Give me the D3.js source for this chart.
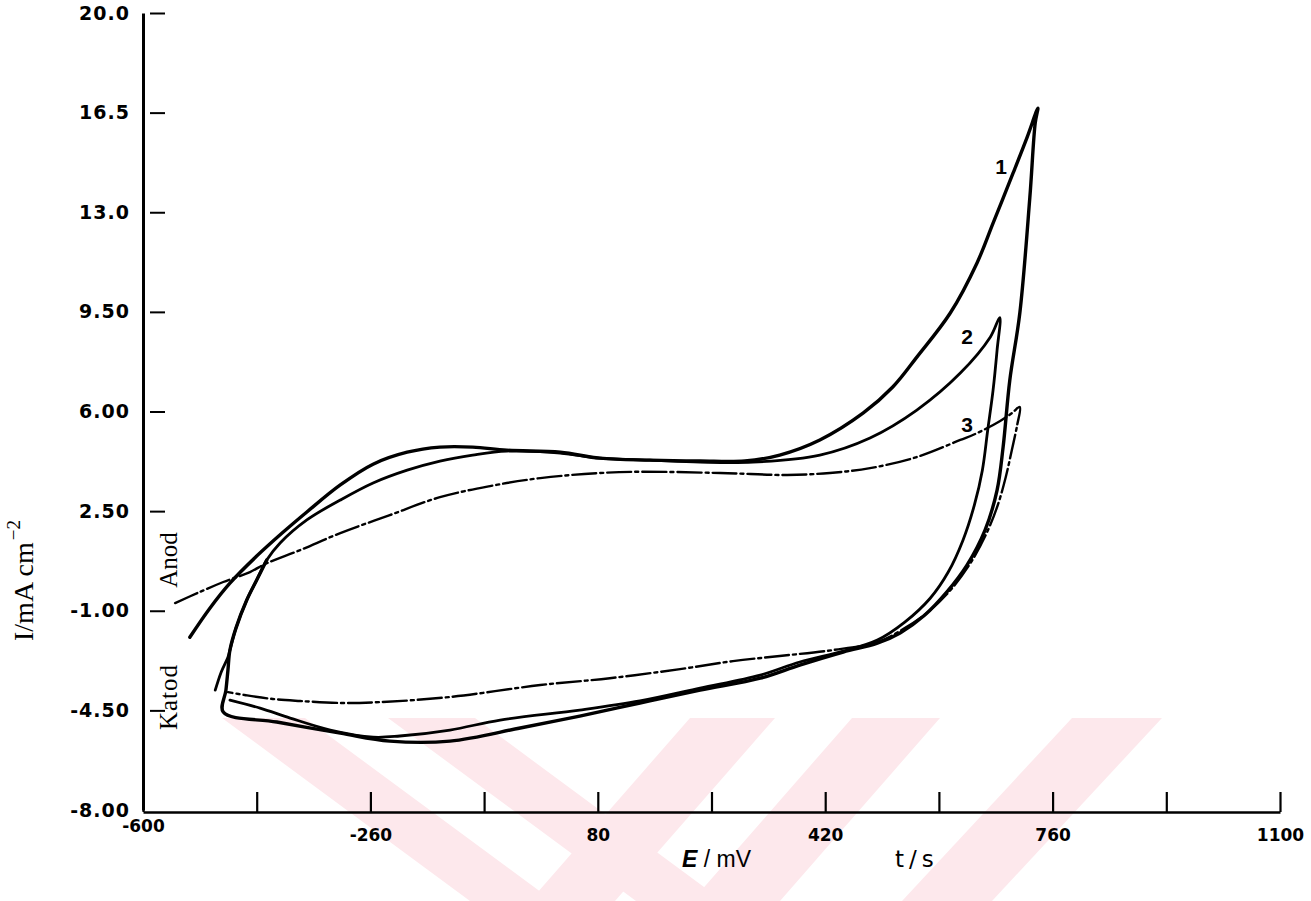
<!DOCTYPE html>
<html>
<head>
<meta charset="utf-8">
<script src="https://cdn.jsdelivr.net/npm/d3@7"></script>
<style>
  html, body { margin: 0; padding: 0; background: #ffffff; }
  svg { display: block; }
</style>
</head>
<body>
<svg id="chart" width="1311" height="901"></svg>
<script>
// Cyclic voltammograms, three scans: [E (mV), I (mA cm^-2)]
// each list runs anodic sweep -> switching potential -> cathodic sweep
const cv1 = [
  [-530, -1.93], [-500, -0.91], [-470, -0.03], [-430, 0.92], [-392, 1.73], [-355, 2.47],
  [-305, 3.42], [-256, 4.15], [-205, 4.57], [-156, 4.75], [-107, 4.75], [-56, 4.64],
  [24, 4.57], [83, 4.36], [158, 4.29], [233, 4.26], [300, 4.26], [352, 4.47],
  [412, 5.00], [477, 5.95], [521, 6.86], [557, 7.91], [607, 9.46], [647, 11.22],
  [671, 12.62], [701, 14.38], [722, 15.64], [738, 16.66],
  [734, 16.13], [726, 13.53], [711, 9.46], [696, 7.10], [686, 4.75], [677, 3.24],
  [659, 1.83], [632, 0.60], [602, -0.34], [569, -1.15], [532, -1.78], [498, -2.14],
  [447, -2.45], [382, -2.91], [323, -3.37], [233, -3.79], [143, -4.24], [53, -4.70],
  [-36, -5.12], [-141, -5.58], [-231, -5.58], [-305, -5.30], [-400, -4.91], [-480, -4.56],
  [-476, -3.79], [-473, -3.09], [-470, -2.38], [-461, -1.61], [-445, -0.63], [-430, 0.08],
  [-415, 0.78]
];
const cv2 = [
  [-492, -3.79], [-483, -3.15], [-473, -2.63], [-470, -2.38], [-461, -1.61], [-445, -0.63],
  [-430, 0.08], [-415, 0.78], [-395, 1.38], [-355, 2.19], [-305, 2.89], [-256, 3.49],
  [-205, 3.94], [-156, 4.26], [-107, 4.47], [-56, 4.61], [24, 4.54], [83, 4.36],
  [158, 4.29], [233, 4.22], [312, 4.22], [412, 4.47], [487, 5.07], [557, 6.05],
  [622, 7.35], [667, 8.62], [681, 9.30],
  [677, 8.16], [671, 6.75], [663, 5.35], [655, 3.94], [643, 2.71], [626, 1.48],
  [604, 0.36], [577, -0.56], [539, -1.40], [498, -2.03], [447, -2.42], [382, -2.80],
  [323, -3.26], [233, -3.72], [143, -4.17], [53, -4.49], [-66, -4.84], [-141, -5.19],
  [-216, -5.40], [-256, -5.44], [-320, -5.19], [-380, -4.77], [-425, -4.42], [-470, -4.14]
];
const cv3 = [
  [-552, -0.73], [-515, -0.34], [-480, 0.01], [-440, 0.36], [-415, 0.67], [-365, 1.13],
  [-305, 1.73], [-231, 2.36], [-156, 2.99], [-81, 3.38], [-6, 3.66], [113, 3.87],
  [263, 3.84], [363, 3.77], [427, 3.84], [487, 4.01], [557, 4.40], [622, 5.00],
  [647, 5.24], [681, 5.66], [699, 5.94], [711, 6.16],
  [707, 5.52], [699, 4.64], [690, 3.70], [678, 2.71], [662, 1.76], [640, 0.78],
  [610, -0.20], [577, -0.98], [539, -1.61], [498, -2.10], [432, -2.38], [352, -2.59],
  [282, -2.77], [203, -3.05], [98, -3.37], [-6, -3.61], [-141, -4.03], [-246, -4.21],
  [-305, -4.24], [-365, -4.17], [-406, -4.10], [-448, -3.96], [-473, -3.86]
];

const curveNames = ["1", "2", "3"];
// where each curve number is written, [E, I]
const curveLabelAt = [[683, 14.6], [632, 8.62], [632, 5.56]];

const xTicks = d3.range(-600, 1101, 170);
const xTickLabels = { "-600": "-600", "-260": "-260", "80": "80", "420": "420", "760": "760", "1100": "1100" };
const yTicks = [-8, -4.5, -1, 2.5, 6, 9.5, 13, 16.5, 20];
const yTickLabels = ["-8.00", "-4.50", "-1.00", "2.50", "6.00", "9.50", "13.0", "16.5", "20.0"];

const svg = d3.select("#chart");

// faint background emblem printed under the lower part of the page
const emblemBands = [
  [[222, 718], [305, 718], [553, 901], [470, 901]],
  [[388, 718], [475, 718], [723, 901], [636, 901]],
  [[690, 718], [775, 718], [615, 901], [530, 901]],
  [[852, 718], [940, 718], [780, 901], [692, 901]],
  [[1072, 718], [1162, 718], [992, 901], [902, 901]]
];
svg.append("g")
  .selectAll("polygon")
  .data(emblemBands)
  .join("polygon")
  .attr("points", d => d.map(p => p.join(",")).join(" "))
  .attr("fill", "#fde8ec");

const x = d3.scaleLinear().domain([-600, 1100]).range([143, 1280]);
const y = d3.scaleLinear().domain([-8, 20]).range([810, 13]);

const tickFont = "'DejaVu Sans', 'Liberation Sans', sans-serif";
const serifFont = "'Liberation Serif', 'Times New Roman', serif";

// y axis: spine + labels
const yAxisG = svg.append("g")
  .attr("transform", `translate(${x(-600)},0)`)
  .call(d3.axisLeft(y).tickValues(yTicks).tickSize(0).tickSizeOuter(0).tickPadding(13)
    .tickFormat((d, i) => yTickLabels[i]));
yAxisG.select(".domain").attr("stroke", "#000").attr("stroke-width", 3);
yAxisG.selectAll("text")
  .attr("font-family", tickFont).attr("font-weight", "bold")
  .attr("font-size", 19).attr("letter-spacing", 1).attr("fill", "#000");

// short detached tick dashes to the right of the spine
const yDash = svg.append("g")
  .attr("transform", `translate(${x(-600) + 7},0)`)
  .call(d3.axisRight(y).tickValues(yTicks.filter(v => v > -8)).tickSize(15).tickFormat(""));
yDash.select(".domain").remove();
yDash.selectAll("line").attr("stroke", "#000").attr("stroke-width", 2);

// x axis with upward ticks
const xAxisG = svg.append("g")
  .attr("transform", `translate(0,${y(-8) + 2})`)
  .call(d3.axisBottom(x).tickValues(xTicks).tickSizeInner(-20).tickSizeOuter(0).tickPadding(17)
    .tickFormat(d => xTickLabels[String(d)] || ""));
xAxisG.select(".domain").attr("stroke", "#000").attr("stroke-width", 2.5);
xAxisG.selectAll("line").attr("stroke", "#000").attr("stroke-width", 2.2);
xAxisG.selectAll("text")
  .attr("font-family", tickFont).attr("font-weight", "bold")
  .attr("font-size", 17).attr("fill", "#000");
xAxisG.selectAll(".tick").filter(d => d === -600).select("text").attr("y", 8);

// voltammogram curves
const line = d3.line()
  .x(d => x(d[0]))
  .y(d => y(d[1]))
  .curve(d3.curveCatmullRom.alpha(0.5));

const curveStyles = [
  { width: 3.4, dash: null },
  { width: 2.8, dash: null },
  { width: 2.4, dash: "24,4,3,4" }
];
svg.append("g")
  .selectAll("path")
  .data([cv1, cv2, cv3])
  .join("path")
  .attr("d", line)
  .attr("fill", "none")
  .attr("stroke", "#000")
  .attr("stroke-linejoin", "round")
  .attr("stroke-linecap", "round")
  .attr("stroke-width", (d, i) => curveStyles[i].width)
  .attr("stroke-dasharray", (d, i) => curveStyles[i].dash);

// curve numbers
svg.append("g")
  .selectAll("text")
  .data(curveNames)
  .join("text")
  .attr("x", (d, i) => x(curveLabelAt[i][0]))
  .attr("y", (d, i) => y(curveLabelAt[i][1]))
  .attr("text-anchor", "middle")
  .attr("dominant-baseline", "central")
  .attr("font-family", "'Liberation Sans', Arial, sans-serif")
  .attr("font-weight", "bold")
  .attr("font-size", 21)
  .attr("fill", "#000")
  .text(d => d);

// axis titles
const yTitle = svg.append("text")
  .attr("transform", "translate(33,641) rotate(-90)")
  .attr("text-anchor", "start")
  .attr("font-family", serifFont)
  .attr("font-size", 28)
  .attr("fill", "#000");
yTitle.append("tspan").text("I/mA cm");
yTitle.append("tspan").attr("dy", -13).attr("dx", 2).attr("font-size", 19).text("−2");

svg.append("text")
  .attr("transform", "translate(177,560) rotate(-90)")
  .attr("text-anchor", "middle")
  .attr("font-family", serifFont)
  .attr("font-size", 25).attr("fill", "#000")
  .text("Anod");
svg.append("text")
  .attr("transform", "translate(177,697) rotate(-90)")
  .attr("text-anchor", "middle")
  .attr("font-family", serifFont)
  .attr("font-size", 25).attr("letter-spacing", 1).attr("fill", "#000")
  .text("Katod");

const xTitle = svg.append("text")
  .attr("x", 682).attr("y", 867)
  .attr("font-family", "'Liberation Sans', Arial, sans-serif")
  .attr("font-size", 23).attr("fill", "#000");
xTitle.append("tspan").attr("font-style", "italic").attr("font-weight", "bold").text("E");
xTitle.append("tspan").text(" / mV");

svg.append("text")
  .attr("x", 895).attr("y", 867)
  .attr("font-family", "'DejaVu Sans', 'Liberation Sans', sans-serif")
  .attr("font-size", 23).attr("letter-spacing", 5).attr("fill", "#000")
  .text("t/s");
</script>
</body>
</html>
